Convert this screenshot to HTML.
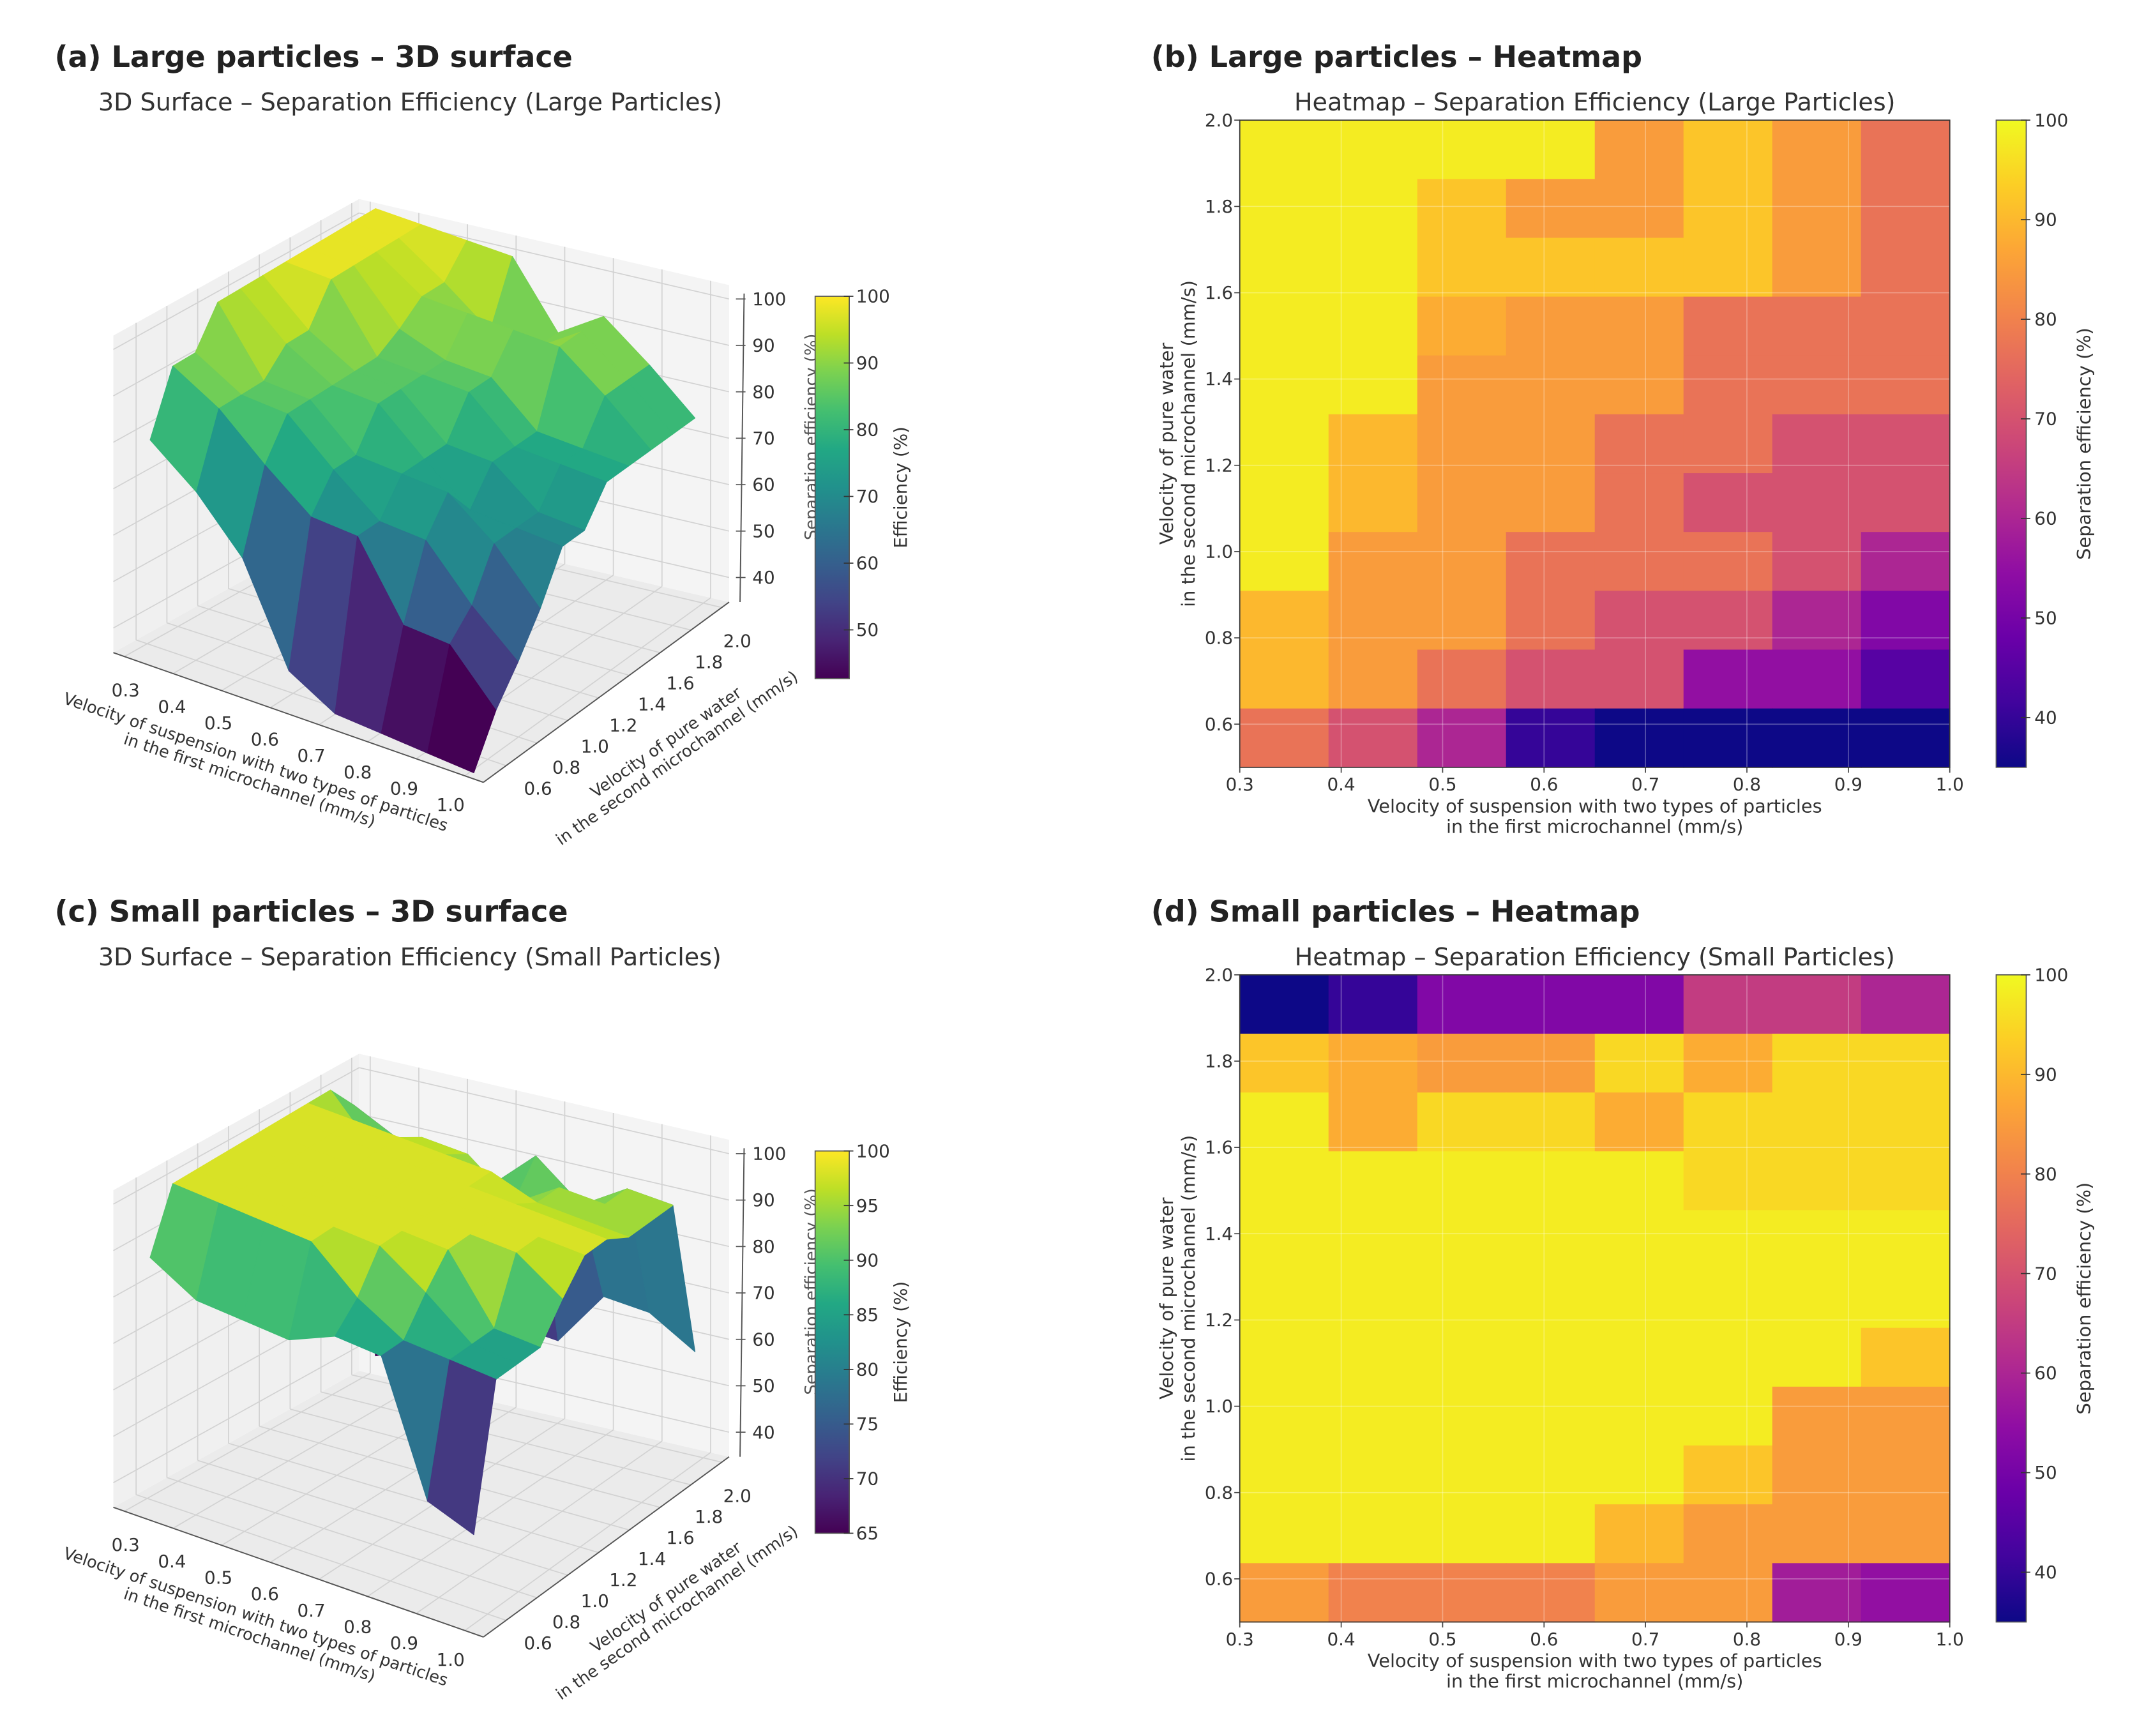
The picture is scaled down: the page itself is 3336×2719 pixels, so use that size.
<!DOCTYPE html>
<html><head><meta charset="utf-8"><style>
html,body{margin:0;padding:0;background:#fff}
svg{display:block;font-family:"DejaVu Sans","Liberation Sans",sans-serif}
</style></head><body>
<svg id="fig" width="3336" height="2719" viewBox="0 0 1560 1271.5" preserveAspectRatio="none" xmlns="http://www.w3.org/2000/svg">
<defs>
<linearGradient id="gViridis" x1="0" y1="1" x2="0" y2="0">
<stop offset="0" stop-color="#440154"/><stop offset="0.1" stop-color="#482475"/><stop offset="0.2" stop-color="#414487"/><stop offset="0.3" stop-color="#355f8d"/><stop offset="0.4" stop-color="#2a788e"/><stop offset="0.5" stop-color="#21918c"/><stop offset="0.6" stop-color="#22a884"/><stop offset="0.7" stop-color="#44bf70"/><stop offset="0.8" stop-color="#7ad151"/><stop offset="0.9" stop-color="#bddf26"/><stop offset="1" stop-color="#fde725"/>
</linearGradient>
<linearGradient id="gPlasma" x1="0" y1="1" x2="0" y2="0">
<stop offset="0" stop-color="#0d0887"/><stop offset="0.1" stop-color="#41049d"/><stop offset="0.2" stop-color="#6a00a8"/><stop offset="0.3" stop-color="#8f0da4"/><stop offset="0.4" stop-color="#b12a90"/><stop offset="0.5" stop-color="#cc4778"/><stop offset="0.6" stop-color="#e16462"/><stop offset="0.7" stop-color="#f2844b"/><stop offset="0.8" stop-color="#fca636"/><stop offset="0.9" stop-color="#fcce25"/><stop offset="1" stop-color="#f0f921"/>
</linearGradient>
</defs>
<g font-weight="bold" font-size="21.5" fill="#222">
<text x="40" y="49">(a) Large particles – 3D surface</text>
<text x="843" y="49">(b) Large particles – Heatmap</text>
<text x="40" y="675">(c) Small particles – 3D surface</text>
<text x="843" y="675">(d) Small particles – Heatmap</text>
</g>
<g font-size="17.8" fill="#333">
<text x="72" y="81">3D Surface – Separation Efficiency (Large Particles)</text>
<text x="1168" y="81" text-anchor="middle">Heatmap – Separation Efficiency (Large Particles)</text>
<text x="72" y="707">3D Surface – Separation Efficiency (Small Particles)</text>
<text x="1168" y="707" text-anchor="middle">Heatmap – Separation Efficiency (Small Particles)</text>
</g>
<g id="layer"></g>
</svg>
<script>
// ---- data ----
const xVals = [0.3, 0.4, 0.5, 0.6, 0.7, 0.8, 0.9, 1.0];
const xTickLabels = ["0.3","0.4","0.5","0.6","0.7","0.8","0.9","1.0"];
const yTickLabels = ["0.6","0.8","1.0","1.2","1.4","1.6","1.8","2.0"];
const yTickVals = [0.6, 0.8, 1.0, 1.2, 1.4, 1.6, 1.8, 2.0];
const zTickVals = [40, 50, 60, 70, 80, 90, 100];
// rows from y=2.0 (top) down to y=0.5 (bottom), 8 columns x=0.3..1.0
const largeEff = [
 [98,98,98,98,85,92,85,77],
 [98,98,92,85,85,92,85,77],
 [98,98,92,92,92,92,85,77],
 [98,98,88,85,85,77,77,77],
 [98,98,85,85,85,77,77,77],
 [98,90,85,85,77,77,70,70],
 [98,90,85,85,77,70,70,70],
 [98,85,85,77,77,77,70,60],
 [90,85,85,77,70,70,60,52],
 [90,85,77,70,70,55,55,45],
 [77,70,60,40,35,35,35,35]
];
const smallEff = [
 [35,40,52,52,52,65,65,60],
 [92,88,85,85,95,88,95,95],
 [98,88,95,95,88,95,95,95],
 [98,98,98,98,98,95,95,95],
 [98,98,98,98,98,98,98,98],
 [98,98,98,98,98,98,98,98],
 [98,98,98,98,98,98,98,92],
 [98,98,98,98,98,98,85,85],
 [98,98,98,98,98,92,85,85],
 [98,98,98,98,90,85,85,85],
 [85,80,80,80,85,85,58,55]
];
const cbLargeTicks = [50,60,70,80,90,100];
const cbSmallTicks = [65,70,75,80,85,90,95,100];
const cbHeatTicks = [40,50,60,70,80,90,100];

const NS = "http://www.w3.org/2000/svg";
const layer = document.getElementById('layer');
function mk(tag, attrs, parent){ const e=document.createElementNS(NS,tag); for(const k in attrs) e.setAttribute(k,attrs[k]); (parent||layer).appendChild(e); return e; }
function txt(s, attrs, parent){ const e=mk('text',attrs,parent); e.textContent=s; return e; }

const VIR=["#440154","#482475","#414487","#355f8d","#2a788e","#21918c","#22a884","#44bf70","#7ad151","#bddf26","#fde725"];
const PLA=["#0d0887","#41049d","#6a00a8","#8f0da4","#b12a90","#cc4778","#e16462","#f2844b","#fca636","#fcce25","#f0f921"];
function hex(h){return [parseInt(h.substr(1,2),16),parseInt(h.substr(3,2),16),parseInt(h.substr(5,2),16)];}
function cmap(stops,t){ t=Math.max(0,Math.min(1,t)); const f=t*(stops.length-1); const i=Math.min(stops.length-2,Math.floor(f)); const r=f-i; const a=hex(stops[i]),b=hex(stops[i+1]); return 'rgb('+a.map((v,k)=>Math.round(v+(b[k]-v)*r)).join(',')+')'; }

// ---- heatmap ----
function heatmap(data, dy, key){
  const X0=908,X1=1428,Y0=88+dy,Y1=562+dy;
  const xs=v=>X0+(v-0.3)/0.7*(X1-X0);
  const ys=v=>Y0+(2.0-v)/1.5*(Y1-Y0);
  const nR=data.length, nC=data[0].length;
  const g=mk('g',{});
  
  
  for(let r=0;r<nR;r++) for(let c=0;c<nC;c++){
    const xa=0.3+c*0.7/nC, xb=0.3+(c+1)*0.7/nC;
    const yt=2.0-r*1.5/nR, yb=2.0-(r+1)*1.5/nR;
    const cell=mk('rect',{x:xs(xa),y:ys(yt),width:xs(xb)-xs(xa)+0.4,height:ys(yb)-ys(yt)+0.4,fill:cmap(PLA,(data[r][c]-35)/65)},g);
    
    
  }
  xVals.forEach((v,i)=>{
    mk('line',{x1:xs(v),x2:xs(v),y1:Y0,y2:Y1,stroke:'#fff','stroke-opacity':0.3,'stroke-width':0.8},g);
    mk('line',{x1:xs(v),x2:xs(v),y1:Y1,y2:Y1+4,stroke:'#444','stroke-width':0.8},g);
    const t=txt(xTickLabels[i],{x:xs(v),y:Y1+17,'text-anchor':'middle','font-size':13,fill:'#333'},g);
    
    
  });
  yTickVals.forEach((v,i)=>{
    mk('line',{x1:X0,x2:X1,y1:ys(v),y2:ys(v),stroke:'#fff','stroke-opacity':0.3,'stroke-width':0.8},g);
    mk('line',{x1:X0-4,x2:X0,y1:ys(v),y2:ys(v),stroke:'#444','stroke-width':0.8},g);
    const t=txt(yTickLabels[i],{x:X0-5,y:ys(v)+4.5,'text-anchor':'end','font-size':13,fill:'#333'},g);
    
    
  });
  mk('rect',{x:X0,y:Y0,width:X1-X0,height:Y1-Y0,fill:'none',stroke:'#333','stroke-width':0.8},g);
  const xl=txt('Velocity of suspension with two types of particles',{x:(X0+X1)/2,y:Y1+33,'text-anchor':'middle','font-size':13.5,fill:'#333'},g);
  
  
  txt('in the first microchannel (mm/s)',{x:(X0+X1)/2,y:Y1+48,'text-anchor':'middle','font-size':13.5,fill:'#333'},g);
  const yl=mk('text',{transform:'translate(859,'+((Y0+Y1)/2)+') rotate(-90)','text-anchor':'middle','font-size':13.5,fill:'#333'},g);
  
  
  const t1=mk('tspan',{x:0,y:0},yl); t1.textContent='Velocity of pure water';
  const t2=mk('tspan',{x:0,y:16},yl); t2.textContent='in the second microchannel (mm/s)';
  // colorbar
  const CX=1462,CW=22;
  const cb=mk('rect',{x:CX,y:Y0,width:CW,height:Y1-Y0,fill:'url(#gPlasma)',stroke:'#555','stroke-width':0.8},g);
  
  
  const cy=v=>Y1-(v-35)/65*(Y1-Y0);
  cbHeatTicks.forEach(v=>{
    mk('line',{x1:CX+CW-4,x2:CX+CW+3,y1:cy(v),y2:cy(v),stroke:'#333','stroke-width':0.8},g);
    const t=txt(String(v),{x:CX+CW+6,y:cy(v)+4.5,'font-size':13,fill:'#333'},g);
    
    
  });
  const cl=txt('Separation efficiency (%)',{transform:'translate(1531,'+((Y0+Y1)/2)+') rotate(-90)','text-anchor':'middle','font-size':13.5,fill:'#333'},g);
  
  
}
heatmap(largeEff,0,'large');
heatmap(smallEff,626,'small');

// ---- 3D surface ----
function surface(data, dy, key, cmin, cbTicks){
  const g=mk('g',{});
  
  
  const Z0=34.7, ZS=3.4, ZMAX=103;
  function bil(P,u,v){
    const a=P[0],b=P[1],c=P[2],d=P[3];
    const x=(1-u)*(1-v)*a[0]+u*(1-v)*b[0]+u*v*c[0]+(1-u)*v*d[0];
    const y=(1-u)*(1-v)*a[1]+u*(1-v)*b[1]+u*v*c[1]+(1-u)*v*d[1];
    return [x,y+dy];
  }
  const BOX=[[83,478],[354,573],[534,441],[263,378]];
  const DAT=[[110,466],[347,567],[509,450],[275,368]];
  const box=(u,v,z)=>{const p=bil(BOX,u,v);return [p[0],p[1]-(z-Z0)*ZS];};
  const pt=(u,v,z)=>{const p=bil(DAT,u,v);return [p[0],p[1]-(z-Z0)*ZS];};
  const poly=(pts,attrs)=>mk('polygon',Object.assign({points:pts.map(p=>p[0].toFixed(1)+','+p[1].toFixed(1)).join(' ')},attrs),g);
  const floor=poly([box(0,0,Z0),box(1,0,Z0),box(1,1,Z0),box(0,1,Z0)],{fill:'#ebebeb',stroke:'none'});
  
  
  const lw=poly([box(0,0,Z0),box(0,1,Z0),box(0,1,ZMAX),box(0,0,ZMAX)],{fill:'#f0f0f0',stroke:'none'});
  
  
  const bw=poly([box(0,1,Z0),box(1,1,Z0),box(1,1,ZMAX),box(0,1,ZMAX)],{fill:'#f4f4f4',stroke:'none'});
  
  
  const gl=(p,q)=>mk('line',{x1:p[0],y1:p[1],x2:q[0],y2:q[1],stroke:'#d2d2d2','stroke-width':0.8},g);
  const ux=v=>0.03+(v-0.3)/0.7*0.92, vy=v=>0.03+(v-0.5)/1.5*0.94;
  xVals.forEach(v=>{gl(box(ux(v),0,Z0),box(ux(v),1,Z0));gl(box(ux(v),1,Z0),box(ux(v),1,ZMAX));});
  yTickVals.forEach(v=>{gl(box(0,vy(v),Z0),box(1,vy(v),Z0));gl(box(0,vy(v),Z0),box(0,vy(v),ZMAX));});
  zTickVals.forEach(v=>{gl(box(0,0,v),box(0,1,v));gl(box(0,1,v),box(1,1,v));});
  const ax=(p,q)=>mk('line',{x1:p[0],y1:p[1],x2:q[0],y2:q[1],stroke:'#555','stroke-width':0.9},g);
  ax(box(0,0,Z0),box(1,0,Z0)); ax(box(1,0,Z0),box(1,1,Z0));
  const zx=542;
  mk('line',{x1:zx,y1:441+dy,x2:zx+3,y2:215+dy,stroke:'#555','stroke-width':0.9},g);
  const zl=txt('Separation efficiency (%)',{transform:'translate(598,'+(320+dy)+') rotate(-90)','text-anchor':'middle','font-size':12,fill:'#555'},g);
  
  
  const nR=data.length,nC=data[0].length;
  const quads=[];
  for(let r=0;r<nR-1;r++) for(let c=0;c<nC-1;c++){
    const v0=1-(r+1)/(nR-1), v1=1-r/(nR-1), u0=c/(nC-1), u1=(c+1)/(nC-1);
    const z00=data[r+1][c], z10=data[r+1][c+1], z11=data[r][c+1], z01=data[r][c];
    const zm=(z00+z10+z11+z01)/4;
    quads.push({d:(v0+v1)/2+(1-(u0+u1)/2), pts:[pt(u0,v0,z00),pt(u1,v0,z10),pt(u1,v1,z11),pt(u0,v1,z01)], zm});
  }
  quads.sort((a,b)=>b.d-a.d);
  quads.forEach(q=>{
    const col=cmap(VIR,(q.zm-cmin)/(100-cmin));
    const p=poly(q.pts,{fill:col,stroke:col,'stroke-width':0.6,'stroke-linejoin':'round'});
    
    
  });
  xVals.forEach((v,i)=>{
    const t=i/7;
    const t1=txt(xTickLabels[i],{x:92+t*238,y:510+dy+t*84,'text-anchor':'middle','font-size':13,fill:'#333'},g);
    
    
  });
  yTickVals.forEach((v,i)=>{
    const t=i/7;
    const t1=txt(yTickLabels[i],{x:394+t*146,y:582+dy-t*108,'text-anchor':'middle','font-size':13,fill:'#333'},g);
    
    
  });
  zTickVals.forEach(v=>{
    const y=441+dy-(v-Z0)*ZS;
    mk('line',{x1:zx-3,x2:zx+4,y1:y,y2:y,stroke:'#555','stroke-width':0.8},g);
    const t1=txt(String(v),{x:551,y:y+4.5,'font-size':13,fill:'#333'},g);
    
    
  });
  const xl=mk('text',{transform:'translate(186,'+(562+dy)+') rotate(18.5)','text-anchor':'middle','font-size':12,fill:'#333'},g);
  
  
  let s=mk('tspan',{x:0,y:0},xl); s.textContent='Velocity of suspension with two types of particles';
  s=mk('tspan',{x:0,y:14},xl); s.textContent='in the first microchannel (mm/s)';
  const yl=mk('text',{transform:'translate(490,'+(547+dy)+') rotate(-35)','text-anchor':'middle','font-size':12,fill:'#333'},g);
  
  
  s=mk('tspan',{x:0,y:0},yl); s.textContent='Velocity of pure water';
  s=mk('tspan',{x:0,y:14},yl); s.textContent='in the second microchannel (mm/s)';
  const CX=597,CW=25,CY0=217+dy,CY1=497+dy;
  const cb=mk('rect',{x:CX,y:CY0,width:CW,height:CY1-CY0,fill:'url(#gViridis)',stroke:'#555','stroke-width':0.8},g);
  
  
  const cmn=key==='large'?42.7:cmin;
  const cy=v=>CY1-(v-cmn)/(100-cmn)*(CY1-CY0);
  cbTicks.forEach(v=>{
    mk('line',{x1:CX+CW-4,x2:CX+CW+3,y1:cy(v),y2:cy(v),stroke:'#333','stroke-width':0.8},g);
    const t1=txt(String(v),{x:CX+CW+5,y:cy(v)+4.5,'font-size':13,fill:'#333'},g);
    
    
  });
  const cl=txt('Efficiency (%)',{transform:'translate(664,'+((CY0+CY1)/2)+') rotate(-90)','text-anchor':'middle','font-size':13,fill:'#333'},g);
  
  
}
surface(largeEff,0,'large',42.7,cbLargeTicks);
surface(smallEff,626,'small',65,cbSmallTicks);
</script>
</body></html>
